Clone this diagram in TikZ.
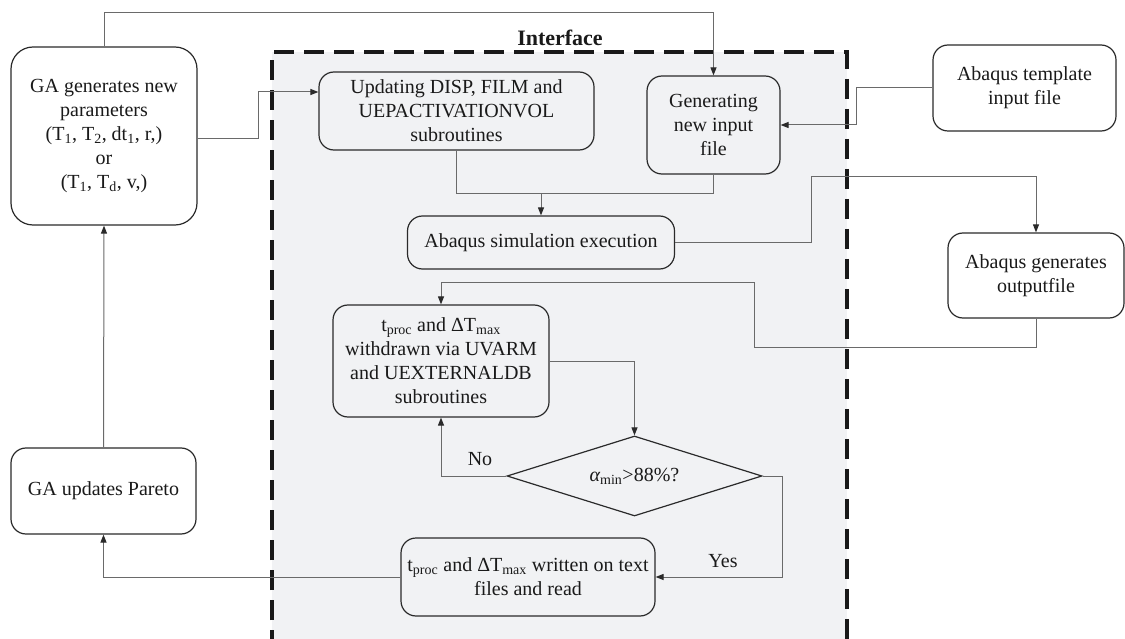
\documentclass[tikz,border=0pt]{standalone}
\usepackage{fontspec}
\setmainfont{Liberation Serif}
\usetikzlibrary{shapes.geometric,arrows.meta}
\definecolor{panel}{HTML}{F1F2F4}
\definecolor{conncol}{HTML}{6A6A6A}
\definecolor{boxcol}{HTML}{2A2A2A}
\definecolor{txtcol}{HTML}{1A1A1A}
\tikzset{
  procbox/.style={draw=boxcol, line width=1.2pt, rounded corners=15pt, fill=white,
    align=center, inner sep=0pt, text=txtcol, font=\fontsize{20}{24}\selectfont},
  panelbox/.style={procbox, fill=panel},
  decbox/.style={draw=boxcol, line width=1.2pt, diamond, aspect=3.2, fill=panel,
    inner sep=0pt, text=txtcol, font=\fontsize{20}{24}\selectfont,
    minimum width=255pt, minimum height=80pt},
  conn/.style={draw=conncol, line width=1pt},
  arr/.style={conn, arrows={-{Triangle[length=8pt,width=6pt,color=boxcol]}}},
  lbl/.style={text=txtcol, font=\fontsize{20}{24}\selectfont, inner sep=0pt},
}
\begin{document}
\begin{tikzpicture}[x=1pt,y=-1pt]
\useasboundingbox (0,0) rectangle (1125,639);
% interface panel
\fill[panel] (272,52) rectangle (847,639);
\draw[black!90, line width=3.6pt, dash pattern=on 20pt off 10pt]
  (272,650) -- (272,52) -- (847,52) -- (847,650);
\node[font=\bfseries\fontsize{22}{26}\selectfont, text=txtcol, inner sep=0pt] (iface) at (560,38) {Interface};

% nodes
\node[procbox, rounded corners=22pt, minimum width=186pt, minimum height=178pt] (ga) at (104,136)
  {GA generates new\\parameters\\(T\textsubscript{1}, T\textsubscript{2}, dt\textsubscript{1}, r,)\\or\\(T\textsubscript{1}, T\textsubscript{d}, v,)};
\node[panelbox, minimum width=275pt, minimum height=78pt] (upd) at (456.5,111)
  {Updating DISP, FILM and\\UEPACTIVATIONVOL\\subroutines};
\node[panelbox, minimum width=133pt, minimum height=98pt] (gen) at (713.5,125)
  {Generating\\new input\\file};
\node[procbox, minimum width=183pt, minimum height=86pt] (tmpl) at (1024.5,88)
  {Abaqus template\\input file};
\node[panelbox, minimum width=267pt, minimum height=53pt] (sim) at (541,242.5)
  {Abaqus simulation execution};
\node[procbox, minimum width=176pt, minimum height=85pt] (out) at (1036,275.5)
  {Abaqus generates\\outputfile};
\node[panelbox, minimum width=216pt, minimum height=112pt] (wd) at (441,361)
  {t\textsubscript{proc} and ΔT\textsubscript{max}\\withdrawn via UVARM\\and UEXTERNALDB\\subroutines};
\node[decbox] (dia) at (634.5,476) {{\itshape α}\textsubscript{min}>88\%?};
\node[panelbox, minimum width=254pt, minimum height=78pt] (wr) at (528,577)
  {t\textsubscript{proc} and ΔT\textsubscript{max} written on text\\files and read};
\node[procbox, minimum width=185pt, minimum height=86pt] (par) at (103.5,491)
  {GA updates Pareto};

% connectors
\draw[arr] (ga.north) -- (ga.north |- 0,13) -| (gen.north);
\draw[arr] (ga.east |- 0,139) -- (258,139) -- (258,92) -- (upd.west |- 0,92);
\draw[conn] (upd.south) |- (sim.north |- 0,194);
\draw[arr] (gen.south) |- (sim.north |- 0,194) -- (sim.north);
\draw[arr] (tmpl.west) -- (856,88) |- (gen.east);
\draw[arr] (sim.east) -| (811,177) -| (out.north);
\draw[arr] (out.south) |- (754,347) |- (wd.north |- 0,283) -- (wd.north);
\draw[arr] (wd.east) -| (dia.north);
\draw[arr] (dia.west) -| (wd.south);
\draw[arr] (dia.east) -- (782,476) |- (wr.east);
\draw[arr] (wr.west) -| (par.south);
\draw[arr] (par.north) -- (ga.south);

% labels
\node[lbl] (no) at (480,459) {No};
\node[lbl] (yes) at (723,561) {Yes};
\end{tikzpicture}
\end{document}
